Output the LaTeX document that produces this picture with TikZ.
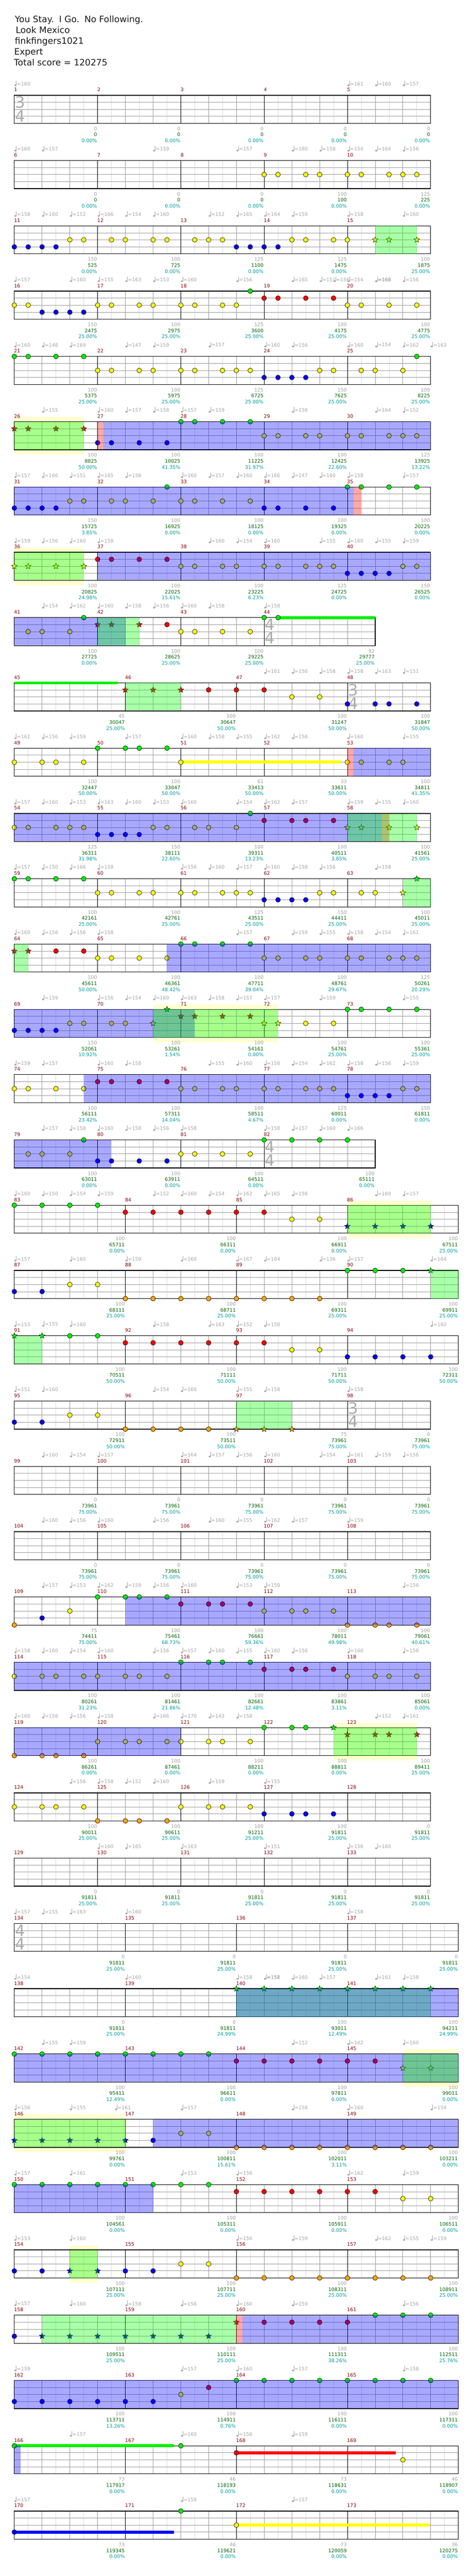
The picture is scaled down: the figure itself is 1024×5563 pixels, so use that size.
\documentclass[tikz,border=0pt]{standalone}
\usepackage{fontspec}
\setmainfont{DejaVu Sans}
\usetikzlibrary{shapes.geometric}
\definecolor{gridl}{RGB}{220,220,220}
\definecolor{gridd}{RGB}{155,155,155}
\definecolor{mred}{RGB}{139,0,0}
\definecolor{sgray}{RGB}{160,160,160}
\definecolor{sgreen}{RGB}{0,100,0}
\definecolor{steal}{RGB}{0,155,155}
\definecolor{tgray}{RGB}{165,165,165}
\definecolor{tsig}{RGB}{170,170,170}
\definecolor{ln0}{RGB}{0,240,0}
\definecolor{ln1}{RGB}{255,0,0}
\definecolor{ln2}{RGB}{255,255,0}
\definecolor{ln3}{RGB}{0,0,255}
\definecolor{ln4}{RGB}{255,165,0}
\definecolor{pale}{RGB}{255,255,208}
\definecolor{ovb}{RGB}{0,0,255}
\definecolor{ovg}{RGB}{0,255,0}
\definecolor{ovr}{RGB}{255,0,0}
\newcommand\smallf{\fontsize{10.5}{12}\selectfont}
\newcommand\titlef{\fontsize{19}{22}\selectfont}
\newcommand\sigf{\fontsize{34}{34}\selectfont}
\tikzset{
  lgrid/.style={draw=gridl,line width=0.8pt},
  dgrid/.style={draw=gridd,line width=0.9pt},
  mline/.style={draw=black,line width=1pt},
  border/.style={draw=black,line width=1.4pt},
  mnum/.style={text=mred,font=\smallf,anchor=west,inner sep=0pt},
  sca/.style={text=sgray,font=\smallf,anchor=east,inner sep=0pt},
  scb/.style={text=sgreen,font=\smallf,anchor=east,inner sep=0pt},
  scc/.style={text=steal,font=\smallf,anchor=east,inner sep=0pt},
  tempolbl/.style={text=tgray,font=\smallf,anchor=west,inner sep=0pt},
  notec/.style={draw=black,line width=0.7pt},
  starn/.style={star,star points=5,star point ratio=2.3,minimum size=13pt,inner sep=0pt,draw=black,line width=0.6pt},
  tsigd/.style={text=tsig,font=\sigf,inner sep=0pt},
  titletxt/.style={font=\titlef,anchor=base west,inner sep=0pt,text=black!90},
}
\newcommand\MeasG[6]{%
  \foreach \i in {1,...,#2} {\draw[lgrid] ({#1+60*\i-30},0) -- ({#1+60*\i-30},60.6);}
  \foreach \i in {2,...,#2} {\draw[dgrid] ({#1+60*\i-60},0) -- ({#1+60*\i-60},60.6);}
  \foreach \yy in {15.15,30.3,45.45} {\draw[dgrid] (#1,\yy) -- ({#1+60*#2},\yy);}
  \draw[mline] (#1,0) -- (#1,60.6);
  \node[mnum] at ({#1-0.8},-11.7) {#3};
  \node[sca] at ({#1+60*#2-1},72.3) {#4};
  \node[scb] at ({#1+60*#2-1},85.3) {#5};
  \node[scc] at ({#1+60*#2-1},98.3) {#6\%};
}
\newcommand\MeasA[5]{\MeasG{#1}{3}{#2}{#3}{#4}{#5}}
\newcommand\MeasB[5]{\MeasG{#1}{4}{#2}{#3}{#4}{#5}}
\newcommand\Bd[1]{\draw[border] (31,0) rectangle (#1,60.6);}
\newcommand\NoteAt[2]{\edef\tmpcol{ln#2}\filldraw[notec,fill=\tmpcol] ({31+30*#1},{15.15*#2}) circle (5.2);}
\newcommand\StarAt[2]{\edef\tmpcol{ln#2}\node[starn,fill=\tmpcol] at ({31+30*#1},{15.15*#2}) {};}
\newcommand\Notes[1]{\foreach \p/\q in {#1} {\NoteAt{\p}{\q}}}
\newcommand\Stars[1]{\foreach \p/\q in {#1} {\StarAt{\p}{\q}}}
\newcommand\TempoAt[2]{%
  \fill[tgray] ({31+30*#1+2.3},-21.4) ellipse (2.4 and 1.8);
  \draw[tgray,line width=0.8pt] ({31+30*#1+4.4},-21.4) -- ({31+30*#1+4.4},-31.5);
  \node[tempolbl] at ({31+30*#1+5.5},-24.7) {=#2};}
\newcommand\Tempos[1]{\foreach \p/\q in {#1} {\TempoAt{\p}{\q}}}
\newcommand\Sus[3]{\fill[ln#1] (#2,{15.15*#1-3.3}) rectangle (#3,{15.15*#1+3.3});}
\newcommand\OvB[2]{\fill[ovb,opacity=0.34] (#1,0) rectangle (#2,60.6);}
\newcommand\OvG[2]{\fill[ovg,opacity=0.34] (#1,0) rectangle (#2,60.6);}
\newcommand\OvR[2]{\fill[ovr,opacity=0.34] (#1,0) rectangle (#2,60.6);}
\newcommand\OvY[2]{\fill[pale] (#1,-10.5) rectangle (#2,71);}
\newcommand\TSig[3]{\node[tsigd] at ({#1+12.5},15.1) {#2}; \node[tsigd] at ({#1+12.5},44.6) {#3};}
\newenvironment{rowk}[1]{\begin{scope}[shift={(0,{205.7+141*#1})}]}{\end{scope}}
\begin{document}
\begin{tikzpicture}[x=1pt,y=-1pt]
\useasboundingbox (0,0) rectangle (1024,5563);
\fill[white] (0,0) rectangle (1024,5563);
\node[titletxt] (t1) at (32,48.5) {You Stay.\hspace{3pt} I Go.\hspace{3pt} No Following.};
\node[titletxt] (t2) at (34,72) {Look Mexico};
\node[titletxt] (t3) at (32,95) {finkfingers1021};
\node[titletxt] (t4) at (30.5,118) {Expert};
\node[titletxt] (t5) at (30,141.7) {Total score = 120275};
% row 0
\begin{rowk}{0}
\MeasA{31}{1}{0}{0}{0.00}\MeasA{211}{2}{0}{0}{0.00}\MeasA{391}{3}{0}{0}{0.00}\MeasA{571}{4}{0}{0}{0.00}\MeasA{751}{5}{0}{0}{0.00}
\Bd{931}\TSig{31}{3}{4}
\Tempos{0/160,24/161,26/160,28/157}
\end{rowk}
% row 1
\begin{rowk}{1}
\MeasA{31}{6}{0}{0}{0.00}\MeasA{211}{7}{0}{0}{0.00}\MeasA{391}{8}{0}{0}{0.00}\MeasA{571}{9}{100}{100}{0.00}\MeasA{751}{10}{125}{225}{0.00}
\Bd{931}
\Notes{18/2,19/2,21/2,22/2,24/2,25/2,27/2,28/2,29/2}
\Tempos{0/160,2/157,10/159,16/157,20/160,22/158,24/154,26/164,28/156}
\end{rowk}
% row 2
\begin{rowk}{2}
\MeasA{31}{11}{150}{525}{0.00}\MeasA{211}{12}{100}{725}{0.00}\MeasA{391}{13}{125}{1100}{0.00}\MeasA{571}{14}{125}{1475}{0.00}\MeasA{751}{15}{100}{1875}{25.00}
\Bd{931}
\Notes{0/3,1/3,2/3,3/3,4/2,5/2,7/2,8/2,10/2,11/2,13/2,14/2,15/2,16/3,17/3,18/3,19/3,20/2,21/2,23/2,24/2}
\Stars{26/2,27/2,29/2}
\OvG{811}{901}
\Tempos{0/158,2/160,4/152,6/166,8/154,10/160,14/152,16/165,18/164,20/159,24/158,28/160}
\end{rowk}
% row 3
\begin{rowk}{3}
\MeasA{31}{16}{150}{2475}{25.00}\MeasA{211}{17}{100}{2975}{25.00}\MeasA{391}{18}{125}{3600}{25.00}\MeasA{571}{19}{100}{4175}{25.00}\MeasA{751}{20}{100}{4775}{25.00}
\Bd{931}
\Notes{0/2,1/2,2/3,3/3,4/3,5/3,6/2,7/2,9/2,10/2,12/2,13/2,15/2,16/2,17/0,18/1,19/1,21/1,23/1,24/2,25/2,27/2,29/2}
\Tempos{0/157,4/160,6/155,8/163,10/153,12/160,16/156,20/165,22/151,23/156,24/154,26/160,26/168,28/156}
\end{rowk}
% row 4
\begin{rowk}{4}
\MeasA{31}{21}{100}{5375}{25.00}\MeasA{211}{22}{100}{5975}{25.00}\MeasA{391}{23}{125}{6725}{25.00}\MeasA{571}{24}{150}{7625}{25.00}\MeasA{751}{25}{100}{8225}{25.00}
\Bd{931}
\Notes{0/0,1/0,3/0,5/0,6/2,7/2,9/2,10/2,12/2,13/2,15/2,16/2,17/2,18/3,19/3,20/3,21/3,22/2,23/2,25/2,26/2,28/2,29/0}
\Tempos{0/160,2/148,4/169,8/147,10/159,14/157,18/160,20/156,24/160,26/154,28/162,30/163}
\end{rowk}
% row 5
\begin{rowk}{5}
\OvY{31}{181}
\MeasA{31}{26}{100}{8825}{50.00}\MeasA{211}{27}{100}{10025}{41.35}\MeasA{391}{28}{100}{11225}{31.97}\MeasA{571}{29}{100}{12425}{22.60}\MeasA{751}{30}{125}{13925}{13.22}
\Bd{931}
\Stars{0/1,1/1,3/1,5/1}
\Notes{6/3,7/3,9/3,11/3,12/0,13/0,15/0,17/0,18/2,19/2,21/2,22/2,24/2,25/2,27/2,28/2,29/2}
\OvG{31}{181}\OvR{211}{223.4}\OvB{223.4}{931}
\Tempos{2/155,6/160,8/157,10/158,12/157,14/159,20/156,26/164,28/152}
\end{rowk}
% row 6
\begin{rowk}{6}
\MeasA{31}{31}{150}{15725}{3.85}\MeasA{211}{32}{100}{16925}{0.00}\MeasA{391}{33}{100}{18125}{0.00}\MeasA{571}{34}{100}{19325}{0.00}\MeasA{751}{35}{100}{20225}{0.00}
\Bd{931}
\Notes{0/3,1/3,2/3,3/3,4/2,5/2,7/2,8/2,10/2,11/0,12/2,13/2,15/2,17/2,18/3,19/3,21/3,23/3,24/0,25/0,27/0,29/0}
\OvB{31}{764}\OvR{764}{781}
\Tempos{0/157,2/166,4/151,6/165,8/156,12/160,14/157,16/160,18/166,20/147,22/160,24/158,28/157}
\end{rowk}
% row 7
\begin{rowk}{7}
\OvY{31}{181}
\MeasA{31}{36}{100}{20825}{24.98}\MeasA{211}{37}{100}{22025}{15.61}\MeasA{391}{38}{100}{23225}{6.23}\MeasA{571}{39}{125}{24725}{0.00}\MeasA{751}{40}{150}{26525}{0.00}
\Bd{931}
\Stars{0/2,1/2,3/2,5/2}
\Notes{6/1,7/1,9/1,11/1,12/2,13/2,15/2,16/2,18/2,19/2,21/2,22/2,23/2,24/3,25/3,26/3,27/3,28/2,29/2}
\OvG{31}{181}\OvB{211}{931}
\Tempos{0/159,2/156,4/160,6/158,14/160,16/154,18/160,22/155,24/160,26/155,28/159}
\end{rowk}
% row 8
\begin{rowk}{8}
\MeasA{31}{41}{100}{27725}{0.00}\MeasA{211}{42}{100}{28625}{25.00}\MeasA{391}{43}{100}{29225}{25.00}\MeasB{571}{44}{92}{29777}{25.00}
\Bd{811}\TSig{571}{4}{4}
\Sus{0}{601}{811}
\Notes{1/2,2/2,4/2,5/0,11/1,12/2,13/2,15/2,17/2,18/0,19/0}
\Stars{6/1,7/1,9/1}
\OvB{31}{271}\OvG{211}{301}
\Tempos{2/154,4/162,6/160,8/158,10/156,12/160,14/158,18/158}
\end{rowk}
% row 9
\begin{rowk}{9}
\MeasB{31}{45}{45}{30047}{25.00}\MeasB{271}{46}{100}{30647}{50.00}\MeasB{511}{47}{100}{31247}{50.00}\MeasA{751}{48}{100}{31847}{50.00}
\Bd{931}\TSig{751}{3}{4}
\Sus{0}{31}{255}
\Stars{8/1,10/1,12/1}
\Notes{14/1,16/1,18/1,20/2,22/2,24/3,26/3,27/3,29/3}
\OvG{271}{391}
\Tempos{18/161,20/156,22/158,24/158,26/163,28/151}
\end{rowk}
% row 10
\begin{rowk}{10}
\MeasA{31}{49}{100}{32447}{50.00}\MeasA{211}{50}{100}{33047}{50.00}\MeasA{391}{51}{61}{33413}{50.00}\MeasA{571}{52}{33}{33611}{50.00}\MeasA{751}{53}{100}{34811}{41.35}
\Bd{931}
\Sus{2}{391}{736}
\Notes{0/2,2/2,3/2,5/2,6/0,8/0,9/0,11/0,12/2,24/2,25/2,27/2,28/2}
\OvR{751}{764}\OvB{764}{931}
\Tempos{0/161,2/156,4/159,8/157,12/160,14/158,16/155,18/162,20/156,24/160,28/155}
\end{rowk}
% row 11
\begin{rowk}{11}
\MeasA{31}{54}{125}{36311}{31.98}\MeasA{211}{55}{150}{38111}{22.60}\MeasA{391}{56}{100}{39311}{13.23}\MeasA{571}{57}{100}{40511}{3.85}\MeasA{751}{58}{100}{41561}{25.00}
\Bd{931}
\Notes{0/2,1/2,3/2,4/2,5/2,6/3,7/3,8/3,9/3,10/2,11/2,13/2,14/2,16/2,17/0,18/1,20/1,21/1,23/1}
\Stars{24/2,25/2,27/2,29/2}
\OvB{31}{825}\OvR{825}{841}\OvG{751}{901}
\Tempos{0/157,2/160,4/153,6/163,8/160,10/153,12/160,16/154,18/162,20/157,24/159,26/155,28/160}
\end{rowk}
% row 12
\begin{rowk}{12}
\MeasA{31}{59}{100}{42161}{25.00}\MeasA{211}{60}{100}{42761}{25.00}\MeasA{391}{61}{125}{43511}{25.00}\MeasA{571}{62}{150}{44411}{25.00}\MeasA{751}{63}{100}{45011}{25.00}
\Bd{931}
\Notes{0/0,1/0,3/0,5/0,6/2,7/2,9/2,10/2,12/2,13/2,15/2,16/2,17/2,18/3,19/3,20/3,21/3,22/2,23/2,25/2,26/2}
\Stars{28/2,29/0}
\OvG{871}{931}
\Tempos{0/157,2/150,4/166,6/158,12/156,14/160,16/157,18/160,20/158,22/156,26/158}
\end{rowk}
% row 13
\begin{rowk}{13}
\MeasA{31}{64}{100}{45611}{50.00}\MeasA{211}{65}{100}{46361}{48.42}\MeasA{391}{66}{100}{47711}{39.04}\MeasA{571}{67}{100}{48761}{29.67}\MeasA{751}{68}{125}{50261}{20.29}
\Bd{931}
\Stars{0/1,1/1}
\Notes{3/1,5/1,6/2,7/2,9/2,11/2,12/0,13/0,15/0,17/0,18/2,19/2,21/2,22/2,24/2,25/2,27/2,28/2,29/2}
\OvG{31}{61}\OvB{361}{931}
\Tempos{0/160,2/158,4/156,6/158,16/157,20/159,22/155,24/158,26/154,28/161}
\end{rowk}
% row 14
\begin{rowk}{14}
\OvY{331}{601}
\MeasA{31}{69}{150}{52061}{10.92}\MeasA{211}{70}{100}{53261}{1.54}\MeasA{391}{71}{100}{54161}{0.00}\MeasA{571}{72}{100}{54761}{25.00}\MeasA{751}{73}{100}{55361}{25.00}
\Bd{931}
\Notes{0/3,1/3,2/3,3/3,4/2,5/2,7/2,8/2,21/2,23/2,24/0,25/0,27/0,29/0}
\Stars{10/2,11/0,12/1,13/1,15/1,17/1,18/2,19/2}
\OvB{31}{421}\OvG{331}{601}
\Tempos{2/159,6/156,8/154,10/160,12/163,14/158,16/157,18/157,22/159,28/155}
\end{rowk}
% row 15
\begin{rowk}{15}
\MeasA{31}{74}{100}{56111}{23.42}\MeasA{211}{75}{100}{57311}{14.04}\MeasA{391}{76}{100}{58511}{4.67}\MeasA{571}{77}{125}{60011}{0.00}\MeasA{751}{78}{150}{61811}{0.00}
\Bd{931}
\Notes{0/2,1/2,3/2,5/2,6/1,7/1,9/1,11/1,12/2,13/2,15/2,16/2,18/2,19/2,21/2,22/2,23/2,24/3,25/3,26/3,27/3,28/2,29/2}
\OvB{181}{931}
\Tempos{0/159,2/157,6/160,8/158,14/155,16/160,18/158,20/154,22/162,24/158,26/156,28/159}
\end{rowk}
% row 16
\begin{rowk}{16}
\MeasA{31}{79}{100}{63011}{0.00}\MeasA{211}{80}{100}{63911}{0.00}\MeasA{391}{81}{100}{64511}{0.00}\MeasB{571}{82}{100}{65111}{0.00}
\Bd{811}\TSig{571}{4}{4}
\Notes{1/2,2/2,4/2,5/0,6/3,7/3,9/3,11/3,12/2,13/2,15/2,17/2,18/0,20/0,22/0,24/0}
\OvB{31}{240}
\Tempos{2/157,4/158,6/160,8/158,10/156,12/158,18/158,20/157,22/160,24/166}
\end{rowk}
% row 17
\begin{rowk}{17}
\OvY{751}{931}
\MeasB{31}{83}{100}{65711}{0.00}\MeasB{271}{84}{100}{66311}{0.00}\MeasB{511}{85}{100}{66911}{0.00}\MeasB{751}{86}{100}{67511}{25.00}
\Bd{991}
\Notes{0/0,2/0,4/0,6/0,8/1,10/1,12/1,14/1,16/1,18/1,20/2,22/2}
\Stars{24/3,26/3,28/3,30/3}
\OvG{751}{931}
\Tempos{0/160,2/150,4/154,6/159,10/152,12/160,14/154,16/162,18/165,20/156,26/160,28/157}
\end{rowk}
% row 18
\begin{rowk}{18}
\MeasB{31}{87}{100}{68111}{25.00}\MeasB{271}{88}{100}{68711}{25.00}\MeasB{511}{89}{100}{69311}{25.00}\MeasB{751}{90}{100}{69911}{25.00}
\Bd{991}
\Notes{0/3,2/3,4/2,6/2,8/4,10/4,12/4,14/4,16/4,18/4,20/4,22/4,24/0,26/0,28/0}
\Stars{30/0}
\OvG{931}{991}
\Tempos{0/157,4/160,8/159,12/160,16/167,18/164,22/136,24/157,30/164}
\end{rowk}
% row 19
\begin{rowk}{19}
\MeasB{31}{91}{100}{70511}{50.00}\MeasB{271}{92}{100}{71111}{50.00}\MeasB{511}{93}{100}{71711}{50.00}\MeasB{751}{94}{100}{72311}{50.00}
\Bd{991}
\Stars{0/0,2/0}
\Notes{4/0,6/0,8/1,10/1,12/1,14/1,16/1,18/1,20/2,22/2,24/3,26/3,28/3,30/3}
\OvG{31}{91}
\Tempos{0/153,2/155,4/160,10/158,14/163,16/152,18/158,30/160}
\end{rowk}
% row 20
\begin{rowk}{20}
\MeasB{31}{95}{100}{72911}{50.00}\MeasB{271}{96}{100}{73511}{50.00}\MeasB{511}{97}{75}{73961}{75.00}\MeasA{751}{98}{0}{73961}{75.00}
\Bd{931}\TSig{751}{3}{4}
\Notes{0/3,2/3,4/2,6/2,8/4,10/4,12/4,14/4}
\Stars{16/4,18/4,20/4}
\OvG{511}{631}
\Tempos{0/151,2/160,10/154,12/160,16/155,18/158,24/158}
\end{rowk}
% row 21
\begin{rowk}{21}
\MeasA{31}{99}{0}{73961}{75.00}\MeasA{211}{100}{0}{73961}{75.00}\MeasA{391}{101}{0}{73961}{75.00}\MeasA{571}{102}{0}{73961}{75.00}\MeasA{751}{103}{0}{73961}{75.00}
\Bd{931}
\Tempos{2/160,4/154,6/157,12/164,14/157,16/156,18/160,22/154,24/161,26/159,28/156}
\end{rowk}
% row 22
\begin{rowk}{22}
\MeasA{31}{104}{0}{73961}{75.00}\MeasA{211}{105}{0}{73961}{75.00}\MeasA{391}{106}{0}{73961}{75.00}\MeasA{571}{107}{0}{73961}{75.00}\MeasA{751}{108}{0}{73961}{75.00}
\Bd{931}
\Tempos{2/160,4/156,6/160,10/156,14/160,16/155,18/162,20/157,24/159}
\end{rowk}
% row 23
\begin{rowk}{23}
\MeasA{31}{109}{75}{74411}{75.00}\MeasA{211}{110}{100}{75461}{68.73}\MeasA{391}{111}{100}{76661}{59.36}\MeasA{571}{112}{100}{78011}{49.98}\MeasA{751}{113}{100}{79061}{40.61}
\Bd{931}
\Notes{0/4,2/3,4/2,6/0,8/0,9/0,11/0,12/1,14/1,15/1,17/1,18/2,20/2,21/2,23/2,24/4,26/4,27/4,29/4}
\OvB{271}{931}
\Tempos{2/157,4/153,6/162,8/159,10/156,12/160,16/153,18/159,28/156}
\end{rowk}
% row 24
\begin{rowk}{24}
\MeasA{31}{114}{100}{80261}{31.23}\MeasA{211}{115}{100}{81461}{21.86}\MeasA{391}{116}{100}{82661}{12.48}\MeasA{571}{117}{100}{83861}{3.11}\MeasA{751}{118}{100}{85061}{0.00}
\Bd{931}
\Notes{0/2,2/2,3/2,5/2,6/2,8/2,9/2,11/2,12/0,14/0,15/0,17/0,18/1,20/1,21/1,23/1,24/2,26/2,27/2,29/2}
\OvB{31}{931}
\Tempos{0/158,2/160,4/154,6/160,10/156,12/157,14/160,16/155,18/160,20/156,24/160,28/156}
\end{rowk}
% row 25
\begin{rowk}{25}
\OvY{721}{901}
\MeasA{31}{119}{100}{86261}{0.00}\MeasA{211}{120}{100}{87461}{0.00}\MeasA{391}{121}{100}{88211}{0.00}\MeasA{571}{122}{100}{88811}{0.00}\MeasA{751}{123}{100}{89411}{25.00}
\Bd{931}
\Notes{0/4,2/4,3/4,5/4,6/2,8/2,9/2,11/2,12/2,14/2,15/2,17/2,18/0,20/0,21/0}
\Stars{23/0,24/1,26/1,27/1,29/1}
\OvB{31}{391}\OvG{721}{901}
\Tempos{0/160,2/158,4/156,6/158,10/166,12/170,14/143,16/158,26/152,28/161}
\end{rowk}
% row 26
\begin{rowk}{26}
\MeasA{31}{124}{100}{90011}{25.00}\MeasA{211}{125}{100}{90611}{25.00}\MeasA{391}{126}{100}{91211}{25.00}\MeasA{571}{127}{100}{91811}{25.00}\MeasA{751}{128}{0}{91811}{25.00}
\Bd{931}
\Notes{0/2,2/2,3/2,5/2,6/4,8/4,9/4,11/4,12/2,14/2,15/2,17/2,18/3,20/3,21/3,23/3}
\Tempos{4/156,6/158,8/152,10/160,14/159,18/155}
\end{rowk}
% row 27
\begin{rowk}{27}
\MeasA{31}{129}{0}{91811}{25.00}\MeasA{211}{130}{0}{91811}{25.00}\MeasA{391}{131}{0}{91811}{25.00}\MeasA{571}{132}{0}{91811}{25.00}\MeasA{751}{133}{0}{91811}{25.00}
\Bd{931}
\Tempos{6/160,8/165,12/163,18/151,24/156,26/160}
\end{rowk}
% row 28
\begin{rowk}{28}
\MeasB{31}{134}{0}{91811}{25.00}\MeasB{271}{135}{0}{91811}{25.00}\MeasB{511}{136}{0}{91811}{25.00}\MeasB{751}{137}{0}{91811}{25.00}
\Bd{991}\TSig{31}{4}{4}
\Tempos{0/157,2/155,4/163,8/160,24/158}
\end{rowk}
% row 29
\begin{rowk}{29}
\MeasB{31}{138}{0}{91811}{25.00}\MeasB{271}{139}{0}{91811}{24.99}\MeasB{511}{140}{100}{93011}{12.49}\MeasB{751}{141}{100}{94211}{24.99}
\Bd{991}
\Stars{16/0,18/0,20/0,22/0,24/0,26/0,28/0,30/0}
\OvG{511}{931}\OvB{511}{991}
\Tempos{0/154,8/160,16/158,18/157,18/156,20/160,22/157,26/161,28/158}
\end{rowk}
% row 30
\begin{rowk}{30}
\OvY{871}{991}
\MeasB{31}{142}{100}{95411}{12.49}\MeasB{271}{143}{100}{96611}{0.00}\MeasB{511}{144}{100}{97811}{0.00}\MeasB{751}{145}{100}{99011}{0.00}
\Bd{991}
\Notes{0/0,2/0,4/0,6/0,8/0,10/0,12/0,14/0,16/1,18/1,20/1,22/1,24/1,26/1}
\Stars{28/2,30/2}
\OvB{31}{991}\OvG{871}{991}
\Tempos{2/155,4/159,20/152,24/162,28/160}
\end{rowk}
% row 31
\begin{rowk}{31}
\OvY{31}{271}
\MeasB{31}{146}{100}{99761}{0.00}\MeasB{271}{147}{100}{100811}{15.61}\MeasB{511}{148}{100}{102011}{3.11}\MeasB{751}{149}{100}{103211}{0.00}
\Bd{991}
\Stars{0/3,2/3,4/3,6/3,8/3}
\Notes{10/3,12/2,14/2,16/4,18/4,20/4,22/4,24/4,26/4,28/4,30/4}
\OvG{31}{271}\OvB{331}{991}
\Tempos{0/156,4/155,7.25/161,12/157,20/158,24/160,30/154}
\end{rowk}
% row 32
\begin{rowk}{32}
\MeasB{31}{150}{100}{104561}{0.00}\MeasB{271}{151}{100}{105311}{0.00}\MeasB{511}{152}{100}{105911}{0.00}\MeasB{751}{153}{100}{106511}{0.00}
\Bd{991}
\Notes{0/0,2/0,4/0,6/0,8/0,10/0,12/0,14/0,16/1,18/1,20/1,22/1,24/1,26/1,28/2,30/2}
\OvB{31}{331}
\Tempos{0/157,4/161,12/153,16/156,24/162,28/159}
\end{rowk}
% row 33
\begin{rowk}{33}
\OvY{151}{211}
\MeasB{31}{154}{100}{107111}{25.00}\MeasB{271}{155}{100}{107711}{25.00}\MeasB{511}{156}{100}{108311}{25.00}\MeasB{751}{157}{100}{108911}{25.00}
\Bd{991}
\Notes{0/3,2/3,8/3,10/3,12/2,14/2,16/4,18/4,20/4,22/4,24/4,26/4,28/4,30/4}
\Stars{4/3,6/3}
\OvG{151}{211}
\Tempos{0/153,4/160,16/156,20/159,26/162,28/155,30/159}
\end{rowk}
% row 34
\begin{rowk}{34}
\MeasB{31}{158}{100}{109511}{25.00}\MeasB{271}{159}{100}{110111}{25.00}\MeasB{511}{160}{100}{111311}{38.26}\MeasB{751}{161}{100}{112511}{25.76}
\Bd{991}
\Notes{0/3,18/1,20/1,22/1,24/1,26/0,28/0,30/0}
\Stars{2/3,4/3,6/3,8/3,10/3,12/3,14/3,16/1}
\OvG{91}{511}\OvR{511}{524.5}\OvB{524.5}{991}
\Tempos{0/157,4/160,8/158,12/156,16/160,20/159,28/156}
\end{rowk}
% row 35
\begin{rowk}{35}
\MeasB{31}{162}{100}{113711}{13.26}\MeasB{271}{163}{100}{114911}{0.76}\MeasB{511}{164}{100}{116111}{0.00}\MeasB{751}{165}{100}{117311}{0.00}
\Bd{991}
\Notes{0/3,2/3,4/3,6/3,8/3,10/3,12/2,14/1,16/0,18/0,20/0,22/0,24/0,26/0,28/0,30/0}
\OvB{31}{991}
\Tempos{0/159,12/157,16/160,20/157,28/158}
\end{rowk}
% row 36
\begin{rowk}{36}
\MeasB{31}{166}{73}{117917}{0.00}\MeasB{271}{167}{46}{118193}{0.00}\MeasB{511}{168}{73}{118631}{0.00}\MeasB{751}{169}{46}{118907}{0.00}
\Bd{991}
\Sus{0}{31}{375.6}\Sus{1}{511}{855.6}
\Notes{0/0,12/0,16/1,28/2}
\OvB{31}{44.4}
\Tempos{4/157,12/160,16/156,20/159}
\end{rowk}
% row 37
\begin{rowk}{37}
\MeasB{31}{170}{73}{119345}{0.00}\MeasB{271}{171}{46}{119621}{0.00}\MeasB{511}{172}{73}{120059}{0.00}\MeasB{751}{173}{36}{120275}{0.00}
\Bd{991}
\Sus{3}{31}{375.6}\Sus{2}{511}{929.5}
\Notes{0/3,12/0,16/2}
\Tempos{0/157,12/159,20/157}
\end{rowk}
\end{tikzpicture}
\end{document}
